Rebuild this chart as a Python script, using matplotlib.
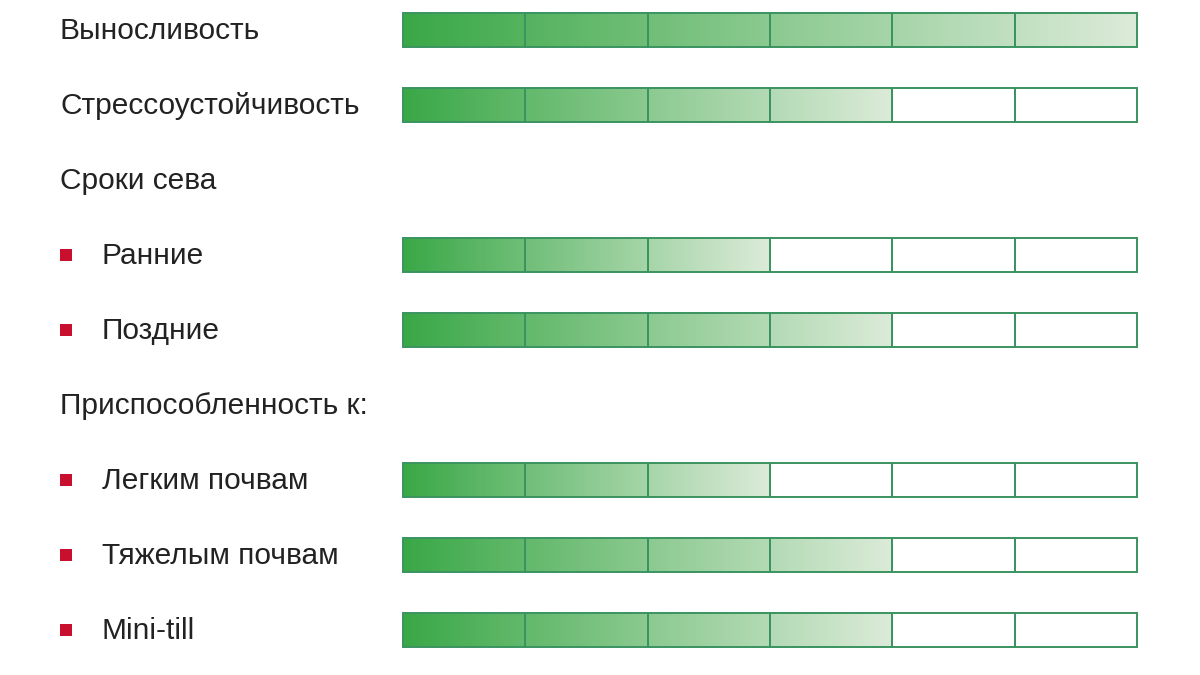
import matplotlib
matplotlib.use("Agg")
import matplotlib.pyplot as plt
import numpy as np
from matplotlib.colors import LinearSegmentedColormap

labels = ["Выносливость", "Стрессоустойчивость", "Сроки сева", "Ранние", "Поздние",
          "Приспособленность к:", "Легким почвам", "Тяжелым почвам", "Mini-till"]
scores = [6, 4, None, 3, 4, None, 3, 4, 4]
bullet = [False, False, False, True, True, False, True, True, True]
max_score = 6

fig = plt.figure(figsize=(12, 6.75), dpi=100)
ax = fig.add_axes([0, 0, 1, 1])
ax.set_xlim(0, 1200)
ax.set_ylim(675, 0)
ax.axis("off")

cmap = LinearSegmentedColormap.from_list("g", ["#3aa847", "#dcebd9"])
x0, x1 = 403, 1137
cw = (x1 - x0) / max_score
bh = 34
ys = [30 + 75 * i for i in range(len(labels))]
grad = np.linspace(0, 1, 256).reshape(1, -1)
for lab, s, b, y in zip(labels, scores, bullet, ys):
    tx = 102 if b else 60
    ax.text(tx, y + 1, lab, fontsize=21.5, va="center", ha="left", color="#222222", family="Liberation Sans")
    if b:
        ax.add_patch(plt.Rectangle((60, y - 6), 12, 12, color="#c8102e", lw=0))
    if s is None:
        continue
    ax.imshow(grad, cmap=cmap, extent=(x0, x0 + s * cw, y + bh / 2, y - bh / 2),
              aspect="auto", zorder=1, interpolation="bilinear")
    for k in range(max_score):
        ax.add_patch(plt.Rectangle((x0 + k * cw, y - bh / 2), cw, bh, fill=False,
                                   ec="#3a9460", lw=1.4, zorder=2))
ax.set_xlim(0, 1200)
ax.set_ylim(675, 0)
fig.savefig("out.png", dpi=100)
